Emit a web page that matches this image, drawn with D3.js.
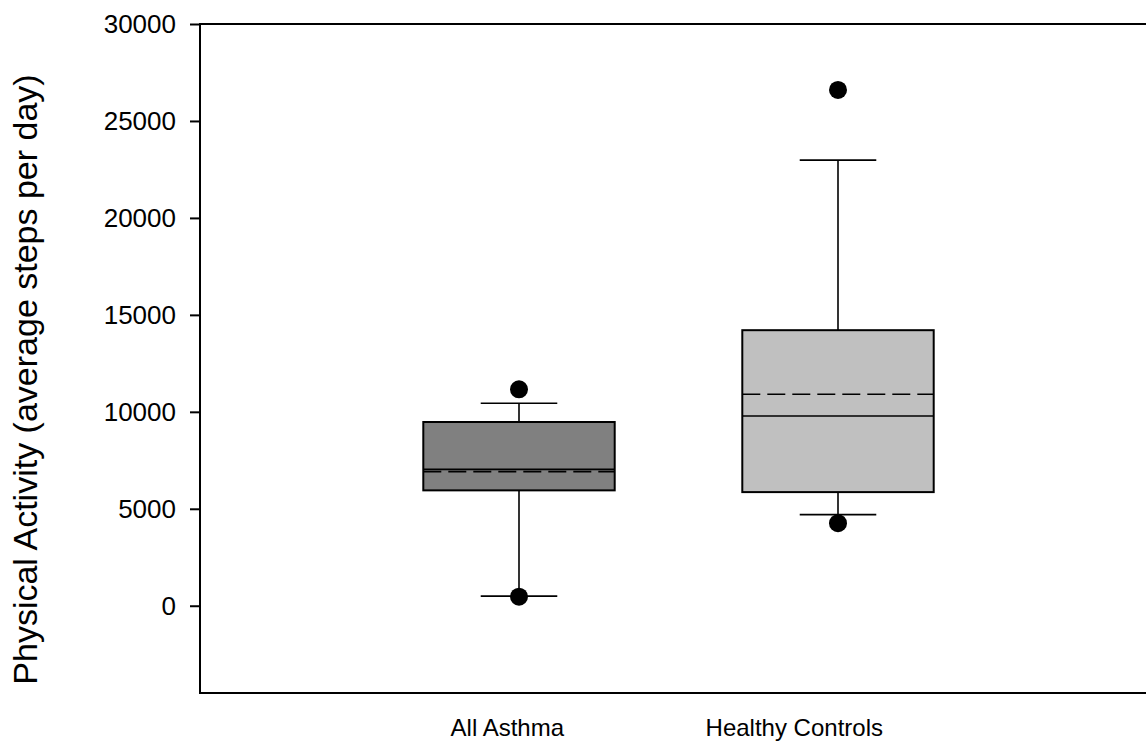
<!DOCTYPE html>
<html>
<head>
<meta charset="utf-8">
<script src="https://cdn.jsdelivr.net/npm/d3@7"></script>
<style>
  body { margin: 0; background: #fff; }
  svg { display: block; font-family: "Liberation Sans", Arial, sans-serif; }
</style>
</head>
<body>
<svg id="chart"></svg>
<script>
// box plot values
var groups = ["All Asthma", "Healthy Controls"];
var q1 = [5950, 5860];
var median = [7030, 9785];
var mean = [6915, 10905];
var q3 = [9475, 14210];
var whiskLow = [495, 4700];
var whiskHigh = [10440, 22980];
var outliers = [[11160, 470], [26600, 4260]];
var fills = ["#808080", "#c0c0c0"];
var yTicks = [0, 5000, 10000, 15000, 20000, 25000, 30000];

var width = 1146, height = 743;
var margin = { top: 24, right: -11, bottom: 50, left: 200 };

var svg = d3.select("#chart")
    .attr("width", width)
    .attr("height", height);

var x = d3.scalePoint()
    .domain(groups)
    .range([margin.left, width - margin.right])
    .padding(1);

var y = d3.scaleLinear()
    .domain([-4500, 30000])
    .range([height - margin.bottom, margin.top]);

var boxW = x.step() * 0.6;
var capW = boxW * 0.2;

var data = groups.map(function (g, i) {
    return {
        name: g, q1: q1[i], median: median[i], mean: mean[i], q3: q3[i],
        lo: whiskLow[i], hi: whiskHigh[i], out: outliers[i], fill: fills[i]
    };
});

// frame
svg.append("rect")
    .attr("x", x.range()[0])
    .attr("y", y(30000))
    .attr("width", x.range()[1] - x.range()[0])
    .attr("height", y(-4500) - y(30000))
    .attr("fill", "none")
    .attr("stroke", "#000")
    .attr("stroke-width", 2);

// y axis
svg.append("g")
    .attr("transform", `translate(${margin.left},0)`)
    .call(d3.axisLeft(y).tickValues(yTicks).tickSize(10).tickPadding(14).tickFormat(d3.format("d")))
    .call(g => g.select(".domain").remove())
    .call(g => g.selectAll(".tick line").attr("stroke-width", 2))
    .call(g => g.selectAll(".tick text")
        .attr("font-size", 26)
        .attr("font-family", "'Liberation Sans', Arial, sans-serif")
        .attr("fill", "#000"));

svg.append("text")
    .attr("transform", `translate(37,${(y(30000) + y(-4500)) / 2 + 21}) rotate(-90)`)
    .attr("text-anchor", "middle")
    .attr("font-size", 34)
    .text("Physical Activity (average steps per day)");

// category labels
svg.append("g")
    .selectAll("text")
    .data(groups)
    .join("text")
    .attr("x", d => x(d) + 45)
    .attr("y", 736)
    .attr("text-anchor", "end")
    .attr("font-size", 24)
    .text(d => d);

var box = svg.append("g")
    .selectAll("g")
    .data(data)
    .join("g");

// whiskers
box.append("line")
    .attr("x1", d => x(d.name)).attr("x2", d => x(d.name))
    .attr("y1", d => y(d.q3)).attr("y2", d => y(d.hi))
    .attr("stroke", "#000").attr("stroke-width", 1.6);
box.append("line")
    .attr("x1", d => x(d.name)).attr("x2", d => x(d.name))
    .attr("y1", d => y(d.q1)).attr("y2", d => y(d.lo))
    .attr("stroke", "#000").attr("stroke-width", 1.6);

// caps
box.selectAll(".cap")
    .data(d => [d.lo, d.hi].map(v => ({ name: d.name, v: v })))
    .join("line")
    .attr("class", "cap")
    .attr("x1", d => x(d.name) - capW)
    .attr("x2", d => x(d.name) + capW)
    .attr("y1", d => y(d.v)).attr("y2", d => y(d.v))
    .attr("stroke", "#000").attr("stroke-width", 1.6);

// boxes
box.append("rect")
    .attr("x", d => x(d.name) - boxW / 2)
    .attr("y", d => y(d.q3))
    .attr("width", boxW)
    .attr("height", d => y(d.q1) - y(d.q3))
    .attr("fill", d => d.fill)
    .attr("stroke", "#000")
    .attr("stroke-width", 2);

// median
box.append("line")
    .attr("x1", d => x(d.name) - boxW / 2)
    .attr("x2", d => x(d.name) + boxW / 2)
    .attr("y1", d => y(d.median)).attr("y2", d => y(d.median))
    .attr("stroke", "#000").attr("stroke-width", 1.6);

// mean
box.append("line")
    .attr("x1", d => x(d.name) - boxW / 2)
    .attr("x2", d => x(d.name) + boxW / 2)
    .attr("y1", d => y(d.mean)).attr("y2", d => y(d.mean))
    .attr("stroke", "#000").attr("stroke-width", 1.6)
    .attr("stroke-dasharray", "18,7");

// outliers
box.selectAll("circle")
    .data(d => d.out.map(v => ({ name: d.name, v: v })))
    .join("circle")
    .attr("cx", d => x(d.name))
    .attr("cy", d => y(d.v))
    .attr("r", 9)
    .attr("fill", "#000");
</script>
</body>
</html>
